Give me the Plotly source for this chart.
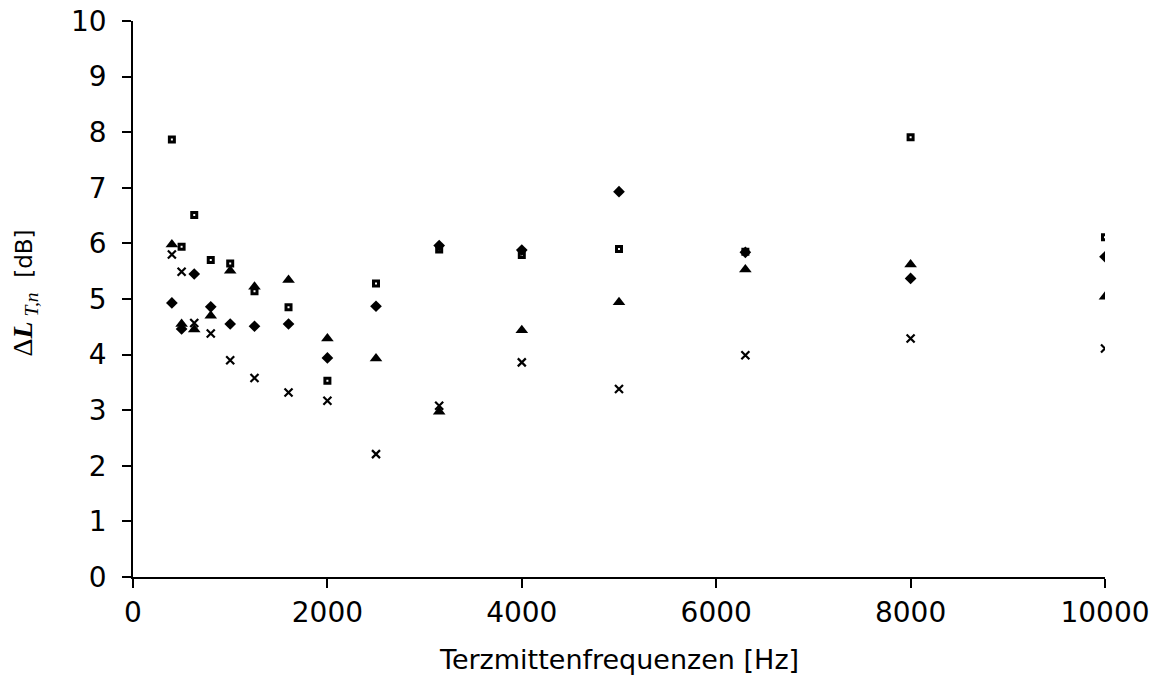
import plotly.graph_objects as go

# Third-octave centre frequencies [Hz]
freqs = [400, 500, 630, 800, 1000, 1250, 1600, 2000, 2500, 3150, 4000, 5000, 6300, 8000, 10000]

# Delta L_T,n values [dB] per measurement series
series_square = [7.87, 5.94, 6.51, 5.70, 5.64, 5.14, 4.85, 3.53, 5.28, 5.89, 5.79, 5.90, 5.85, 7.91, 6.11]
series_diamond = [4.93, 4.46, 5.45, 4.86, 4.55, 4.51, 4.55, 3.94, 4.87, 5.96, 5.88, 6.93, 5.84, 5.37, 5.76]
series_triangle = [5.98, 4.55, 4.45, 4.70, 5.51, 5.22, 5.34, 4.29, 3.93, 2.97, 4.44, 4.94, 5.53, 5.62, 5.04]
series_cross = [5.80, 5.49, 4.57, 4.38, 3.90, 3.58, 3.32, 3.17, 2.21, 3.08, 3.86, 3.38, 3.99, 4.29, 4.11]

x_ticks = [0, 2000, 4000, 6000, 8000, 10000]
y_ticks = list(range(0, 11))

fig = go.Figure()

fig.add_trace(go.Scatter(
    x=freqs, y=series_square, mode="markers", name="square",
    marker=dict(symbol="square", size=5, color="white",
                line=dict(color="black", width=3)),
))
fig.add_trace(go.Scatter(
    x=freqs, y=series_diamond, mode="markers", name="diamond",
    marker=dict(symbol="diamond", size=9, color="black",
                line=dict(color="black", width=0)),
))
fig.add_trace(go.Scatter(
    x=freqs, y=series_triangle, mode="markers", name="triangle",
    marker=dict(symbol="triangle-up", size=11, color="black",
                line=dict(color="black", width=0)),
))
fig.add_trace(go.Scatter(
    x=freqs, y=series_cross, mode="markers", name="cross",
    marker=dict(symbol="x-thin", size=8, color="black",
                line=dict(color="black", width=2.2)),
))

tick_font = dict(family="DejaVu Sans", size=28, color="black")

fig.update_layout(
    width=1157, height=693,
    margin=dict(l=133, r=52, t=21, b=116, autoexpand=False),
    paper_bgcolor="white", plot_bgcolor="white",
    showlegend=False,
    xaxis=dict(
        range=[0, 10000], tickvals=x_ticks, ticktext=[str(v) for v in x_ticks],
        showgrid=False, zeroline=False, automargin=False,
        showline=True, linecolor="black", linewidth=1.5,
        ticks="outside", ticklen=9, tickwidth=1.5, tickcolor="black",
        tickfont=tick_font, ticklabelstandoff=1,
    ),
    yaxis=dict(
        range=[0, 10], tickvals=y_ticks, ticktext=[str(v) for v in y_ticks],
        showgrid=False, zeroline=False, automargin=False,
        showline=True, linecolor="black", linewidth=1.5,
        ticks="outside", ticklen=9, tickwidth=1.5, tickcolor="black",
        tickfont=tick_font, ticklabelstandoff=10,
    ),
)

# Axis titles
fig.add_annotation(
    text="Terzmittenfrequenzen [Hz]",
    xref="paper", yref="paper", x=0.5, y=-0.149,
    xanchor="center", yanchor="middle", showarrow=False,
    font=dict(family="DejaVu Sans", size=27, color="black"),
)
fig.add_annotation(
    text=("<span style='font-family:Liberation Serif;font-size:28px'>Δ<b><i>L</i></b>"
          "<sub><i> T,n</i></sub></span>  [dB]"),
    xref="paper", yref="paper", x=-0.112, y=0.51,
    xanchor="center", yanchor="middle", showarrow=False, textangle=-90,
    font=dict(family="DejaVu Sans", size=23, color="black"),
)

fig.write_html("out.html")
